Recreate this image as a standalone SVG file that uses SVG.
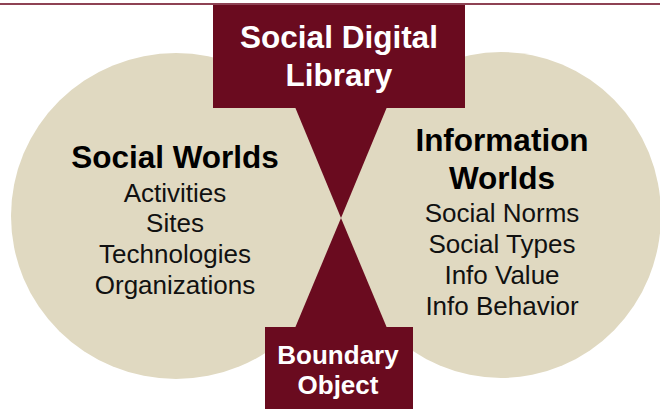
<svg xmlns="http://www.w3.org/2000/svg" width="660" height="409" viewBox="0 0 660 409">
<style>
.world{fill:#e0d9c1}
.obj{fill:#6a0b1f}
.t{font-family:"Liberation Sans",Arial,sans-serif;text-anchor:middle}
.h{font-weight:bold;font-size:31.5px;fill:#000}
.i{font-size:26px;fill:#111}
.w{font-weight:bold;fill:#fff}
</style>
<rect x="0" y="3" width="660" height="2" fill="#8e4254"/>
<g id="social-worlds">
<ellipse class="world" cx="176" cy="216" rx="165" ry="163"/>
<text class="t h" x="175" y="168">Social Worlds</text>
<text class="t i" x="175" y="202">Activities</text>
<text class="t i" x="175" y="232">Sites</text>
<text class="t i" x="175" y="263">Technologies</text>
<text class="t i" x="175" y="294">Organizations</text>
</g>
<g id="information-worlds">
<ellipse class="world" cx="501" cy="215" rx="160" ry="163"/>
<text class="t h" x="502" y="151">Information</text>
<text class="t h" x="502" y="189">Worlds</text>
<text class="t i" x="502" y="222">Social Norms</text>
<text class="t i" x="502" y="253">Social Types</text>
<text class="t i" x="502" y="284">Info Value</text>
<text class="t i" x="502" y="315">Info Behavior</text>
</g>
<g id="connectors">
<polygon class="obj" points="295,107 387,107 341,218"/>
<polygon class="obj" points="341,218 387,328 295,328"/>
</g>
<g id="social-digital-library">
<rect class="obj" x="213" y="5" width="252" height="103"/>
<text class="t w" x="339" y="48" font-size="31.5">Social Digital</text>
<text class="t w" x="339" y="86" font-size="31.5">Library</text>
</g>
<g id="boundary-object">
<rect class="obj" x="265" y="327" width="148" height="82"/>
<text class="t w" x="338" y="364" font-size="26">Boundary</text>
<text class="t w" x="338" y="394" font-size="26">Object</text>
</g>
</svg>
